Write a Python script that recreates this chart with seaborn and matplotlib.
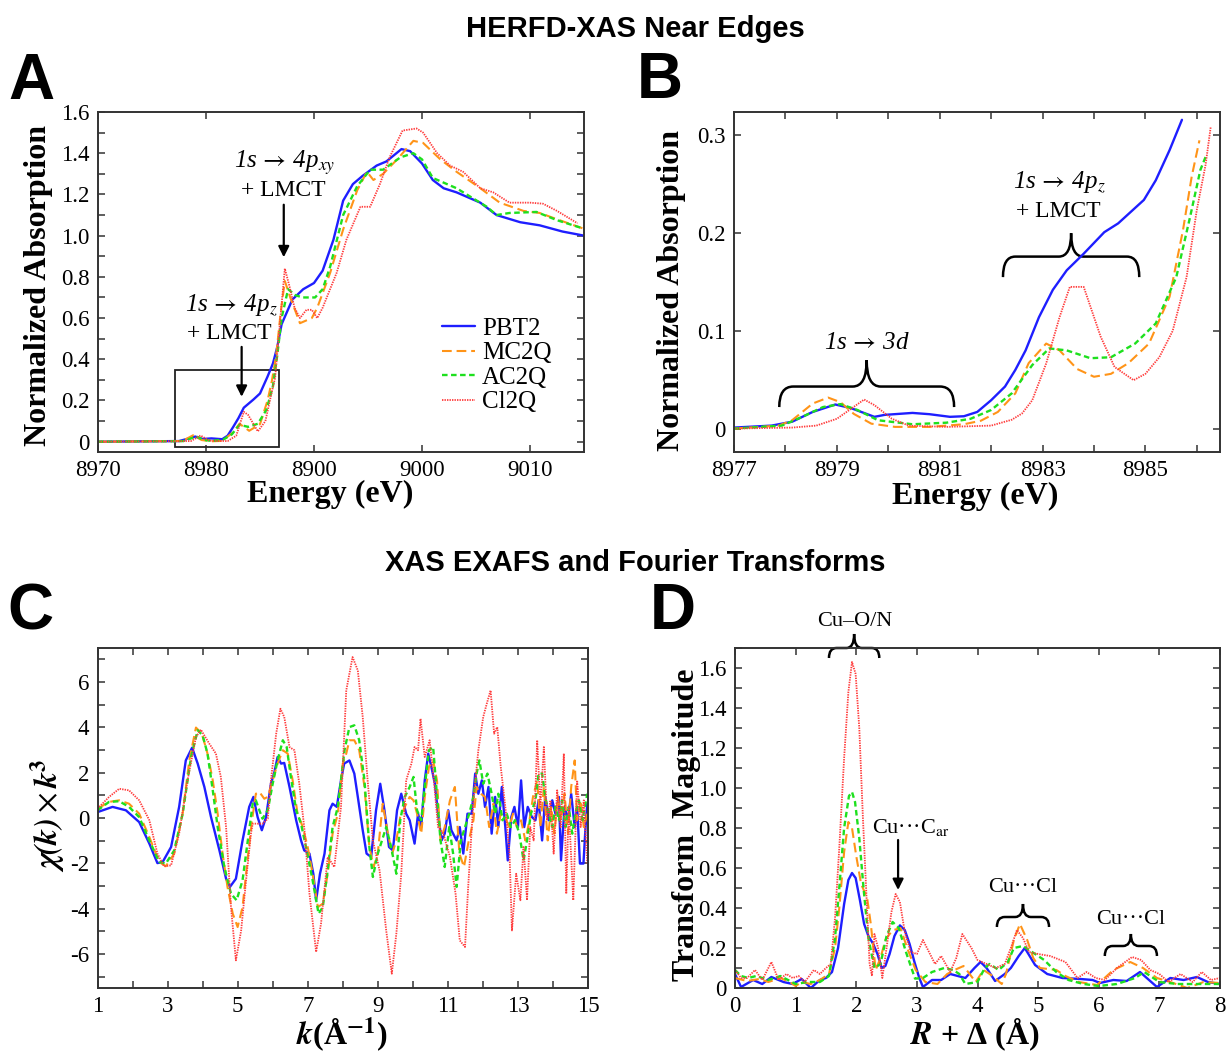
import numpy as np
import pandas as pd
import matplotlib.pyplot as plt
import seaborn as sns
from matplotlib.path import Path
from matplotlib.patches import PathPatch, Rectangle
from matplotlib.ticker import MultipleLocator, FixedLocator

# ---- panel A: HERFD-XAS full near edge ----
a_pbt2_e = [8970, 8977.5, 8978.5, 8979.0, 8979.7, 8980.5, 8981.5, 8982.0, 8982.5, 8983.0, 8983.5, 8984.4, 8985.0,
            8985.7, 8986.2, 8986.6, 8987.0, 8988.0, 8989.0, 8990.0, 8990.8, 8991.8, 8992.7, 8993.6, 8994.5, 8995.8,
            8996.7, 8998.1, 8998.9, 9000.0, 9001.0, 9002.0, 9003.2, 9005.4, 9006.9, 9009.1, 9010.9, 9013.0, 9015.0]
a_pbt2_y = [0.0, 0.003, 0.017, 0.025, 0.013, 0.016, 0.012, 0.029, 0.07, 0.114, 0.165, 0.205, 0.234,
            0.316, 0.38, 0.46, 0.57, 0.69, 0.74, 0.77, 0.83, 0.98, 1.17, 1.25, 1.29, 1.34,
            1.36, 1.42, 1.41, 1.35, 1.27, 1.23, 1.21, 1.16, 1.10, 1.065, 1.05, 1.02, 1.0]
a_mc2q_e = [8970, 8977.8, 8978.8, 8979.6, 8980.5, 8981.5, 8982.5, 8983.1, 8984.0, 8985.0, 8985.7, 8986.1, 8986.5,
            8986.9, 8987.3, 8987.8, 8988.7, 8989.8, 8990.3, 8991.5, 8992.7, 8994.0, 8994.9, 8995.5, 8996.4, 8997.7,
            8999.2, 9000.1, 9001.7, 9003.2, 9005.4, 9007.2, 9009.4, 9010.9, 9013.0, 9014.9]
a_mc2q_y = [0.0, 0.003, 0.031, 0.008, 0.002, 0.004, 0.045, 0.087, 0.053, 0.085, 0.2, 0.295, 0.42,
            0.62, 0.78, 0.70, 0.575, 0.60, 0.65, 0.82, 1.03, 1.22, 1.31, 1.27, 1.30, 1.37,
            1.46, 1.45, 1.37, 1.31, 1.23, 1.16, 1.12, 1.11, 1.07, 1.035]
a_ac2q_e = [8970, 8977.9, 8979.1, 8979.8, 8980.5, 8981.6, 8982.4, 8983.1, 8983.9, 8984.8, 8985.6, 8986.2, 8986.6,
            8987.0, 8987.6, 8988.3, 8989.0, 8990.1, 8990.8, 8991.5, 8992.7, 8994.0, 8995.2, 8996.4, 8998.0, 8999.2,
            9000.0, 9001.0, 9003.2, 9006.0, 9006.9, 9008.1, 9010.6, 9012.5, 9014.9]
a_ac2q_y = [0.0, 0.003, 0.025, 0.009, 0.004, 0.01, 0.036, 0.082, 0.072, 0.087, 0.155, 0.27, 0.42,
            0.6, 0.74, 0.71, 0.70, 0.70, 0.74, 0.85, 1.10, 1.24, 1.32, 1.32, 1.38, 1.40,
            1.37, 1.28, 1.23, 1.14, 1.10, 1.11, 1.115, 1.075, 1.035]
a_cl2q_e = [8970, 8978.6, 8979.5, 8980.3, 8982.0, 8982.8, 8983.5, 8983.9, 8984.8, 8985.5, 8986.0, 8986.4, 8986.8,
            8987.3, 8987.7, 8988.2, 8988.7, 8989.3, 8989.8, 8990.3, 8990.8, 8992.1, 8993.0, 8994.3, 8995.2, 8996.1,
            8997.0, 8998.2, 8999.5, 9000.1, 9001.4, 9002.6, 9003.8, 9005.4, 9006.6, 9008.1, 9010.0, 9011.2, 9012.5,
            9014.4]
a_cl2q_y = [0.0, 0.003, 0.03, 0.005, 0.003, 0.029, 0.145, 0.13, 0.05, 0.1, 0.22, 0.31, 0.55,
            0.84, 0.76, 0.65, 0.60, 0.64, 0.64, 0.60, 0.65, 0.82, 0.98, 1.14, 1.14, 1.25,
            1.38, 1.51, 1.52, 1.50, 1.40, 1.34, 1.31, 1.23, 1.21, 1.16, 1.16, 1.155, 1.12,
            1.06]
a_tick_pos = [8970, 8980, 8990, 9000, 9010]
a_tick_labels = ['8970', '8980', '8900', '9000', '9010']

# ---- panel B: pre-edge zoom ----
b_pbt2_e = [8977.0, 8977.73, 8978.13, 8978.53, 8978.97, 8979.27, 8979.73, 8979.93, 8980.47, 8980.8, 8981.2, 8981.47,
            8981.73, 8982.0, 8982.27, 8982.47, 8982.67, 8982.93, 8983.2, 8983.47, 8983.8, 8984.2, 8984.47, 8984.97,
            8985.2, 8985.47, 8985.71]
b_pbt2_y = [0.001, 0.003, 0.007, 0.017, 0.0246, 0.021, 0.012, 0.014, 0.016, 0.0147, 0.012, 0.0126,
            0.017, 0.029, 0.043, 0.06, 0.08, 0.114, 0.142, 0.162, 0.179, 0.201, 0.21, 0.234,
            0.254, 0.285, 0.316]
b_mc2q_e = [8977.0, 8977.87, 8978.13, 8978.53, 8978.83, 8979.07, 8979.33, 8979.67, 8980.13, 8980.8, 8981.47, 8981.8,
            8982.13, 8982.47, 8982.73, 8983.07, 8983.33, 8983.67, 8984.0, 8984.33, 8984.67, 8985.07, 8985.47, 8985.73,
            8985.9, 8986.05]
b_mc2q_y = [0.0, 0.003, 0.0085, 0.0256, 0.0317, 0.027, 0.015, 0.005, 0.0017, 0.0017, 0.0044, 0.008,
            0.017, 0.036, 0.067, 0.087, 0.08, 0.061, 0.053, 0.056, 0.067, 0.087, 0.135, 0.203,
            0.258, 0.295]
b_ac2q_e = [8977.0, 8977.93, 8978.33, 8978.73, 8979.07, 8979.4, 8979.8, 8980.47, 8981.13, 8981.6, 8982.0, 8982.4,
            8982.8, 8983.13, 8983.47, 8983.93, 8984.33, 8984.8, 8985.2, 8985.6, 8985.87, 8986.07, 8986.17]
b_ac2q_y = [0.0, 0.003, 0.012, 0.022, 0.025, 0.019, 0.0085, 0.0044, 0.006, 0.01, 0.019, 0.036,
            0.065, 0.082, 0.08, 0.072, 0.073, 0.087, 0.1075, 0.155, 0.217, 0.265, 0.278]
b_cl2q_e = [8977.0, 8978.13, 8978.6, 8979.0, 8979.27, 8979.53, 8979.73, 8980.07, 8980.4, 8981.13, 8982.0, 8982.4,
            8982.6, 8982.8, 8983.07, 8983.33, 8983.53, 8983.8, 8984.13, 8984.4, 8984.77, 8985.0, 8985.27, 8985.53,
            8985.8, 8986.0, 8986.17, 8986.27]
b_cl2q_y = [0.0, 0.001, 0.003, 0.01, 0.02, 0.0297, 0.024, 0.01, 0.003, 0.0017, 0.003, 0.009,
            0.0154, 0.029, 0.0666, 0.114, 0.145, 0.145, 0.094, 0.063, 0.0495, 0.056, 0.073, 0.1,
            0.155, 0.224, 0.27, 0.309]

# ---- panel C: EXAFS chi(k)*k^3 ----
c_pbt2_k = [1.0, 1.43, 1.81, 2.19, 2.48, 2.71, 2.86, 3.1, 3.33, 3.52, 3.7, 3.86, 4.05, 4.24, 4.48, 4.67, 4.78, 4.95,
            5.14, 5.33, 5.45, 5.57, 5.69, 5.81, 5.95, 6.05, 6.14, 6.24, 6.33, 6.48, 6.67, 6.81, 6.9, 7.05, 7.16,
            7.24, 7.35, 7.48, 7.62, 7.71, 7.83, 7.95, 8.04, 8.19, 8.33, 8.43, 8.57, 8.68, 8.81, 8.95, 9.07, 9.19,
            9.32, 9.43, 9.55, 9.67, 9.81, 9.91, 10.05, 10.15, 10.24, 10.34, 10.44, 10.53, 10.63, 10.72, 10.82,
            10.91, 11.01, 11.1, 11.25, 11.34, 11.44, 11.56, 11.68, 11.78, 11.87, 11.97, 12.06, 12.16, 12.25,
            12.35, 12.44, 12.54, 12.64, 12.71, 12.81, 12.9, 13.0, 13.09, 13.18, 13.28, 13.4, 13.5, 13.59, 13.69,
            13.78, 13.88, 13.98, 14.07, 14.17, 14.23, 14.33, 14.43, 14.52, 14.62, 14.69, 14.77, 14.87, 14.93,
            14.98]
c_pbt2_chi = [0.26, 0.49, 0.34, -0.18, -1.13, -1.99, -1.94, -1.28, 0.49, 2.54, 3.1, 2.4, 1.37, 0.04, -1.43, -2.68,
              -3.04, -2.68, -0.99, 0.49, 0.93, 0.04, -0.54, 0.04, 1.51, 2.03, 2.69, 2.4, 2.43, 1.37, -0.1, -0.99,
              -1.43, -1.57, -2.46, -3.63, -2.46, -1.57, 0.34, 0.63, 0.49, 1.66, 2.4, 2.54, 1.96, 0.93, -0.54,
              -1.57, -1.72, 0.34, 1.51, 0.34, -1.28, -1.43, 0.34, 1.07, 0.19, -0.1, -1.13, 0.19, -0.4, 1.66, 2.84,
              2.25, 1.51, 0.19, -0.99, -0.69, 0.34, -0.54, -0.99, -0.4, -1.57, 0.19, 0.19, 1.96, 1.07, 1.66, 0.49,
              1.37, -0.69, 0.93, -0.4, 1.37, -0.4, -1.87, 0.04, 0.49, -0.4, 1.66, -0.4, 0.49, 0.04, -0.1, 0.78,
              -0.99, 0.93, -0.1, 0.78, 0.19, 0.93, -1.87, 0.49, -0.1, 1.07, -0.4, 0.49, -2.01, -2.01, -0.4, 0.63]
c_mc2q_k = [1.0, 1.33, 1.62, 1.9, 2.19, 2.48, 2.76, 2.95, 3.19, 3.43, 3.62, 3.81, 3.98, 4.14, 4.29, 4.43, 4.57, 4.71,
            4.86, 5.0, 5.14, 5.29, 5.41, 5.52, 5.62, 5.76, 5.86, 6.0, 6.14, 6.29, 6.43, 6.57, 6.71, 6.86, 7.0, 7.14,
            7.29, 7.43, 7.57, 7.71, 7.86, 8.0, 8.1, 8.19, 8.33, 8.47, 8.62, 8.76, 8.88, 9.0, 9.14, 9.29, 9.41, 9.53,
            9.64, 9.77, 9.91, 10.02, 10.12, 10.24, 10.34, 10.46, 10.58, 10.69, 10.79, 10.91, 11.06, 11.2, 11.33,
            11.46, 11.58, 11.73, 11.82, 11.94, 12.06, 12.18, 12.3, 12.4, 12.51, 12.64, 12.75, 12.86, 12.97, 13.09,
            13.21, 13.33, 13.43, 13.55, 13.64, 13.74, 13.85, 13.95, 14.04, 14.14, 14.23, 14.33, 14.43, 14.52,
            14.62, 14.69, 14.79, 14.88, 14.98]
c_mc2q_chi = [0.41, 0.71, 0.78, 0.63, 0.19, -0.84, -1.94, -2.13, -1.57, 0.19, 2.54, 3.99, 3.72, 2.84, 1.66, 0.19,
              -1.57, -3.04, -4.22, -4.81, -3.93, -1.72, -0.1, 1.07, 1.15, 0.85, 0.93, 1.66, 2.4, 2.99, 2.84, 1.66,
              0.19, -0.4, -1.28, -2.46, -3.93, -3.78, -2.46, -0.69, 0.19, 2.4, 2.84, 3.43, 3.43, 2.99, 1.37, -1.28,
              -2.16, -1.57, 0.63, -0.69, -1.57, -0.99, 0.04, 0.49, 0.93, 0.78, 0.19, -0.69, 0.93, 2.25, 2.54, 1.66,
              -0.99, -0.4, 0.78, 1.37, -1.57, -2.16, -1.13, -0.1, 1.37, 1.07, 0.93, -0.4, 0.63, -0.69, 0.19, 0.04,
              -0.4, 0.19, -0.4, -0.1, -0.99, -0.1, 0.93, 1.66, -0.4, 1.37, -0.99, 0.49, -0.69, 0.93, -0.1, 1.07,
              -0.69, 1.37, 2.54, -0.1, 0.78, -0.4, 0.19]
c_ac2q_k = [1.0, 1.33, 1.62, 1.9, 2.19, 2.48, 2.76, 2.95, 3.19, 3.43, 3.67, 3.86, 4.0, 4.14, 4.29, 4.43, 4.62, 4.81,
            4.97, 5.14, 5.29, 5.43, 5.52, 5.62, 5.71, 5.86, 6.0, 6.14, 6.29, 6.4, 6.52, 6.67, 6.81, 6.95, 7.14, 7.31,
            7.43, 7.57, 7.71, 7.86, 8.05, 8.19, 8.33, 8.47, 8.62, 8.76, 8.86, 9.0, 9.12, 9.24, 9.38, 9.53, 9.64,
            9.77, 9.91, 10.02, 10.12, 10.24, 10.34, 10.46, 10.58, 10.67, 10.79, 10.91, 11.04, 11.15, 11.25, 11.37,
            11.49, 11.61, 11.73, 11.82, 11.9, 12.01, 12.13, 12.25, 12.35, 12.44, 12.56, 12.68, 12.8, 12.92, 13.04,
            13.16, 13.26, 13.37, 13.5, 13.59, 13.69, 13.78, 13.88, 13.98, 14.07, 14.17, 14.26, 14.36, 14.45,
            14.55, 14.64, 14.74, 14.84, 14.98]
c_ac2q_chi = [0.34, 0.71, 0.74, 0.49, 0.04, -0.99, -1.94, -2.01, -1.43, 0.19, 2.69, 3.87, 3.65, 2.84, 1.22, -0.4,
              -2.16, -3.34, -3.63, -2.75, -0.99, 0.63, 0.78, 0.34, -0.03, 0.34, 1.51, 2.54, 3.43, 3.13, 1.81, 0.34,
              -0.25, -1.28, -2.75, -4.22, -3.93, -2.31, -0.4, 0.49, 2.99, 4.01, 4.09, 3.43, 1.66, -1.28, -2.6,
              -1.57, -0.99, -0.4, -1.28, -2.46, -0.1, 0.93, 1.37, 1.81, 0.34, -0.1, 1.37, 2.99, 3.13, 1.37, -0.99,
              -2.16, -0.4, -1.57, -3.04, -0.99, -0.4, 0.19, 0.93, 1.96, 2.54, 1.51, 1.96, 1.07, 0.19, 1.07, -0.1,
              0.19, -0.4, -0.1, -0.69, -1.87, -0.99, 0.19, 0.78, 1.96, 1.96, 0.93, 0.19, -0.4, 0.49, -0.1, 0.78,
              -0.4, 0.49, -0.69, 0.19, 0.78, -0.1, 1.07]
c_cl2q_k = [1.0, 1.33, 1.62, 1.9, 2.19, 2.48, 2.71, 2.9, 3.1, 3.33, 3.57, 3.81, 3.95, 4.19, 4.38, 4.52, 4.67, 4.81,
            4.95, 5.1, 5.24, 5.38, 5.43, 5.71, 5.86, 5.95, 6.1, 6.22, 6.33, 6.48, 6.62, 6.76, 6.9, 7.05, 7.24, 7.38,
            7.57, 7.76, 7.95, 8.1, 8.28, 8.43, 8.57, 8.71, 8.86, 9.05, 9.24, 9.4, 9.53, 9.67, 9.81, 9.96, 10.05,
            10.15, 10.22, 10.34, 10.48, 10.6, 10.72, 10.87, 11.06, 11.22, 11.34, 11.49, 11.58, 11.73, 11.87, 12.01,
            12.11, 12.22, 12.32, 12.41, 12.51, 12.64, 12.76, 12.83, 12.95, 13.07, 13.16, 13.26, 13.35, 13.45,
            13.55, 13.64, 13.74, 13.83, 13.93, 14.02, 14.12, 14.22, 14.31, 14.38, 14.45, 14.58, 14.69, 14.79,
            14.88, 14.98]
c_cl2q_chi = [0.41, 0.93, 1.29, 1.22, 0.78, -0.1, -1.57, -2.13, -2.09, -0.69, 1.66, 3.57, 3.9, 3.28, 2.84, 1.81,
              -0.4, -3.93, -6.28, -4.96, -2.75, -0.69, -0.25, -0.25, -0.03, 1.66, 3.72, 4.82, 4.46, 3.13, 2.99, 1.51,
              -0.4, -3.34, -5.91, -4.66, -1.72, -2.16, 0.49, 5.63, 7.1, 6.51, 4.46, 1.66, -0.99, -2.31, -4.96, -6.87,
              -5.1, -2.46, 1.66, 2.4, 3.13, 2.99, 4.38, 2.69, 3.43, 1.66, -0.4, -0.69, -1.72, -3.34, -5.4, -5.69,
              -3.04, 0.78, 2.99, 4.46, 5.04, 5.63, 3.72, 4.01, 2.25, 0.49, -1.57, -4.96, -2.46, -3.63, -1.28, -3.63,
              -0.4, -0.99, 3.43, 0.49, 3.13, -0.1, 0.78, -1.57, 1.22, -0.4, 2.84, -3.34, 0.49, -3.63, 1.66, -0.4,
              0.78, -2.01]

# ---- panel D: Fourier transform magnitude ----
d_pbt2_r = [0.0, 0.1, 0.3, 0.45, 0.6, 0.8, 0.95, 1.1, 1.25, 1.4, 1.5, 1.6, 1.7, 1.8, 1.87, 1.93, 1.99, 2.06, 2.13,
            2.2, 2.28, 2.35, 2.42, 2.48, 2.55, 2.63, 2.72, 2.8, 2.88, 2.96, 3.04, 3.1, 3.25, 3.4, 3.55, 3.8, 3.95,
            4.05, 4.15, 4.29, 4.45, 4.55, 4.68, 4.78, 4.95, 5.15, 5.4, 5.7, 5.9, 6.02, 6.24, 6.46, 6.68, 6.96,
            7.18, 7.4, 7.62, 7.8, 8.0]
d_pbt2_m = [0.07, 0.005, 0.04, 0.02, 0.055, 0.03, 0.02, 0.045, 0.0, 0.04, 0.05, 0.08, 0.2, 0.42, 0.54, 0.575, 0.55,
            0.44, 0.32, 0.26, 0.22, 0.17, 0.1, 0.11, 0.17, 0.26, 0.313, 0.29, 0.22, 0.13, 0.05, 0.005, 0.04, 0.04,
            0.07, 0.05, 0.1, 0.13, 0.1, 0.035, 0.07, 0.1, 0.16, 0.2, 0.115, 0.07, 0.05, 0.045, 0.04, 0.025, 0.04,
            0.035, 0.08, 0.005, 0.05, 0.04, 0.055, 0.03, 0.02]
d_mc2q_r = [0.0, 0.2, 0.4, 0.55, 0.75, 0.9, 1.0, 1.1, 1.25, 1.4, 1.55, 1.65, 1.72, 1.8, 1.87, 1.93, 2.0, 2.08, 2.18,
            2.24, 2.32, 2.4, 2.48, 2.55, 2.62, 2.73, 2.84, 2.98, 3.14, 3.34, 3.5, 3.62, 3.77, 3.97, 4.1, 4.25, 4.4,
            4.47, 4.6, 4.7, 4.82, 4.92, 5.03, 5.3, 5.45, 5.67, 5.97, 6.24, 6.52, 6.73, 6.96, 7.18, 7.46, 7.73, 8.0]
d_mc2q_m = [0.05, 0.035, 0.045, 0.03, 0.05, 0.03, 0.01, 0.03, 0.02, 0.04, 0.07, 0.2, 0.4, 0.68, 0.83, 0.8, 0.66,
            0.52, 0.45, 0.32, 0.09, 0.15, 0.24, 0.27, 0.29, 0.3, 0.2, 0.09, 0.03, 0.02, 0.07, 0.09, 0.11, 0.03,
            0.09, 0.06, 0.02, 0.07, 0.24, 0.32, 0.24, 0.15, 0.1, 0.09, 0.06, 0.03, 0.015, 0.09, 0.13, 0.1, 0.05,
            0.03, 0.0, 0.03, 0.025]
d_ac2q_r = [0.0, 0.1, 0.22, 0.35, 0.55, 0.75, 1.0, 1.2, 1.4, 1.55, 1.65, 1.72, 1.8, 1.88, 1.93, 1.98, 2.05, 2.12,
            2.2, 2.3, 2.4, 2.5, 2.6, 2.7, 2.82, 2.97, 3.1, 3.25, 3.45, 3.6, 3.7, 3.8, 4.0, 4.12, 4.2, 4.35, 4.5,
            4.6, 4.75, 4.9, 5.1, 5.3, 5.5, 5.75, 6.0, 6.3, 6.6, 6.75, 7.0, 7.3, 7.6, 8.0]
d_ac2q_m = [0.09, 0.06, 0.05, 0.06, 0.04, 0.06, 0.02, 0.03, 0.03, 0.06, 0.25, 0.5, 0.8, 0.96, 0.98, 0.93, 0.75,
            0.5, 0.25, 0.1, 0.12, 0.26, 0.33, 0.3, 0.18, 0.047, 0.05, 0.08, 0.1, 0.09, 0.07, 0.02, 0.03, 0.1,
            0.12, 0.09, 0.13, 0.2, 0.21, 0.18, 0.14, 0.08, 0.04, 0.02, 0.01, 0.02, 0.05, 0.08, 0.03, 0.02, 0.02,
            0.02]
d_cl2q_r = [0.0, 0.1, 0.2, 0.33, 0.45, 0.6, 0.72, 0.85, 0.95, 1.05, 1.15, 1.3, 1.4, 1.5, 1.58, 1.65, 1.72, 1.8,
            1.87, 1.93, 1.99, 2.05, 2.11, 2.17, 2.22, 2.26, 2.3, 2.36, 2.43, 2.5, 2.58, 2.65, 2.72, 2.8, 2.9, 3.0,
            3.1, 3.2, 3.3, 3.4, 3.55, 3.65, 3.75, 3.9, 4.0, 4.15, 4.3, 4.45, 4.55, 4.65, 4.75, 4.85, 5.0, 5.2,
            5.45, 5.65, 5.8, 5.95, 6.1, 6.3, 6.55, 6.7, 6.85, 7.0, 7.15, 7.35, 7.55, 7.7, 7.85, 8.0]
d_cl2q_m = [0.09, 0.05, 0.05, 0.09, 0.04, 0.13, 0.04, 0.07, 0.05, 0.06, 0.03, 0.09, 0.07, 0.1, 0.12, 0.35, 0.7,
            1.15, 1.48, 1.63, 1.57, 1.3, 0.85, 0.45, 0.12, 0.06, 0.27, 0.2, 0.05, 0.2, 0.38, 0.47, 0.43, 0.28,
            0.18, 0.17, 0.24, 0.18, 0.12, 0.16, 0.08, 0.15, 0.27, 0.2, 0.14, 0.12, 0.1, 0.12, 0.2, 0.29, 0.25,
            0.18, 0.17, 0.16, 0.13, 0.05, 0.08, 0.05, 0.04, 0.1, 0.155, 0.14, 0.09, 0.07, 0.03, 0.07, 0.03, 0.08,
            0.04, 0.05]

SAMPLES = ['PBT2', 'MC2Q', 'AC2Q', 'Cl2Q']
STYLES = {
    'PBT2': dict(color='#1e1eff', lw=1.7, ls='-'),
    'MC2Q': dict(color='#ff9418', lw=1.5, ls=(0, (7, 3.5))),
    'AC2Q': dict(color='#1ee01e', lw=1.7, ls=(0, (4, 2.5))),
    'Cl2Q': dict(color='#ff3c3c', lw=1.3, ls=(0, (1, 0.8))),
}

sns.set_style('ticks')
plt.rcParams['font.family'] = ['Liberation Serif', 'DejaVu Serif']
plt.rcParams['mathtext.fontset'] = 'stix'
plt.rcParams['axes.unicode_minus'] = False
plt.rcParams['lines.scale_dashes'] = False
for key in ['text.color', 'axes.labelcolor', 'xtick.labelcolor', 'ytick.labelcolor']:
    plt.rcParams[key] = 'black'

TICK_FS = 16.5
LABEL_FS = 23
NOTE_FS = 17


def plot_series(ax, x, y, name):
    st = STYLES[name]
    sns.lineplot(x=x, y=y, ax=ax, color=st['color'], linewidth=st['lw'], linestyle=st['ls'],
                 sort=False, estimator=None, legend=False, label=name)


def style_axes(ax):
    for sp in ax.spines.values():
        sp.set_linewidth(1.4)
        sp.set_color('#333333')
    ax.tick_params(which='both', direction='in', top=True, right=True, length=5, width=1.1,
                   color='#333333', labelcolor='black', labelsize=TICK_FS, pad=6)


def draw_brace(ax, x0, x1, y_end, y_flat, y_tip, frac=0.12, lw=1.8):
    xc = (x0 + x1) / 2
    d = (x1 - x0) * frac
    verts = [(x0, y_end), (x0, y_flat), (x0 + d, y_flat), (xc - d, y_flat), (xc, y_flat), (xc, y_tip),
             (xc, y_flat), (xc + d, y_flat), (x1 - d, y_flat), (x1, y_flat), (x1, y_end)]
    codes = [Path.MOVETO, Path.CURVE3, Path.CURVE3, Path.LINETO, Path.CURVE3, Path.CURVE3,
             Path.CURVE3, Path.CURVE3, Path.LINETO, Path.CURVE3, Path.CURVE3]
    ax.add_patch(PathPatch(Path(verts, codes), fill=False, lw=lw, ec='black', clip_on=False))


def arrow(ax, x, y_from, y_to):
    ax.annotate('', xy=(x, y_to), xytext=(x, y_from),
                arrowprops=dict(arrowstyle='-|>', color='black', lw=1.6, mutation_scale=16,
                                shrinkA=0, shrinkB=0))


def transition(ax, x, y, final, sub=''):
    # italic transition label like "1s -> 4p_xy"
    txt = '1s$\\,\\rightarrow\\,$' + final + (f'$_{{{sub}}}$' if sub else '')
    ax.text(x, y, txt, ha='center', va='center', fontsize=NOTE_FS + 1, style='italic')


def set_labels(ax, xlabel, ylabel, xpos, ypos):
    ax.set_xlabel(xlabel, fontsize=LABEL_FS, fontweight='bold', va='center')
    ax.set_ylabel(ylabel, fontsize=LABEL_FS, fontweight='bold', va='center')
    ax.xaxis.set_label_coords(*xpos)
    ax.yaxis.set_label_coords(*ypos)


fig = plt.figure(figsize=(12.27, 10.53), dpi=100)
W, H = 1227, 1053


def add_axes_px(left, top, right, bottom):
    return fig.add_axes([left / W, 1 - bottom / H, (right - left) / W, (bottom - top) / H])


# ---------- A ----------
axA = add_axes_px(98, 112, 584, 452)
for name, e, y in zip(SAMPLES, [a_pbt2_e, a_mc2q_e, a_ac2q_e, a_cl2q_e], [a_pbt2_y, a_mc2q_y, a_ac2q_y, a_cl2q_y]):
    plot_series(axA, e, y, name)
axA.set_xlim(8970, 9015)
axA.set_ylim(-0.05, 1.6)
axA.set_xticks(a_tick_pos)
axA.set_xticklabels(a_tick_labels)
yt = np.arange(0, 1.61, 0.2)
axA.set_yticks(yt)
axA.set_yticklabels(['0' if v == 0 else f'{v:.1f}' for v in yt])
axA.yaxis.set_minor_locator(MultipleLocator(0.1))
style_axes(axA)
set_labels(axA, 'Energy (eV)', 'Normalized Absorption', (0.477, -0.126), (-0.123, 0.491))
axA.add_patch(Rectangle((8977.15, -0.024), 9.6, 0.374, fill=False, lw=1.3, ec='#222222'))
transition(axA, 8987.3, 1.355, '4p', 'xy')
axA.text(8987.2, 1.22, '+ LMCT', ha='center', va='center', fontsize=NOTE_FS)
arrow(axA, 8987.2, 1.15, 0.895)
transition(axA, 8982.3, 0.665, '4p', 'z')
axA.text(8982.2, 0.527, '+ LMCT', ha='center', va='center', fontsize=NOTE_FS)
arrow(axA, 8983.3, 0.46, 0.218)
axA.legend(loc='center left', bbox_to_anchor=(0.708, 0.255), frameon=False, fontsize=18,
           handlelength=1.3, handletextpad=0.3, labelspacing=0.08, borderpad=0, borderaxespad=0)

# ---------- B ----------
axB = add_axes_px(734, 112, 1220, 452)
for name, e, y in zip(SAMPLES, [b_pbt2_e, b_mc2q_e, b_ac2q_e, b_cl2q_e], [b_pbt2_y, b_mc2q_y, b_ac2q_y, b_cl2q_y]):
    plot_series(axB, e, y, name)
axB.set_xlim(8977, 8986.45)
axB.set_ylim(-0.024, 0.324)
axB.xaxis.set_major_locator(FixedLocator([8977, 8979, 8981, 8983, 8985]))
axB.xaxis.set_minor_locator(FixedLocator([8978, 8980, 8982, 8984, 8986]))
axB.set_yticks([0, 0.1, 0.2, 0.3])
axB.set_yticklabels(['0', '0.1', '0.2', '0.3'])
style_axes(axB)
set_labels(axB, 'Energy (eV)', 'Normalized Absorption', (0.496, -0.132), (-0.128, 0.476))
draw_brace(axB, 8977.88, 8981.28, 0.022, 0.043, 0.07, frac=0.08)
transition(axB, 8979.58, 0.088, '3d')
draw_brace(axB, 8982.23, 8984.88, 0.155, 0.176, 0.2, frac=0.09)
transition(axB, 8983.33, 0.252, '4p', 'z')
axB.text(8983.3, 0.222, '+ LMCT', ha='center', va='center', fontsize=NOTE_FS)

# ---------- C ----------
axC = add_axes_px(97.5, 648, 588, 988)
for name, k, c in zip(SAMPLES, [c_pbt2_k, c_mc2q_k, c_ac2q_k, c_cl2q_k],
                      [c_pbt2_chi, c_mc2q_chi, c_ac2q_chi, c_cl2q_chi]):
    plot_series(axC, k, c, name)
axC.set_xlim(1, 15)
axC.set_ylim(-7.5, 7.5)
axC.xaxis.set_major_locator(MultipleLocator(2, offset=1))
axC.xaxis.set_minor_locator(MultipleLocator(1))
axC.yaxis.set_major_locator(MultipleLocator(2))
axC.yaxis.set_minor_locator(MultipleLocator(1))
style_axes(axC)
set_labels(axC, r'$\mathbfit{k}$(Å$^{\mathbf{-1}}$)', r'$\mathbfit{\chi(k)}\times\mathbfit{k}^{\mathbf{3}}$',
           (0.498, -0.138), (-0.101, 0.509))

# ---------- D ----------
axD = add_axes_px(735, 648, 1220, 988)
for name, r, m in zip(SAMPLES, [d_pbt2_r, d_mc2q_r, d_ac2q_r, d_cl2q_r], [d_pbt2_m, d_mc2q_m, d_ac2q_m, d_cl2q_m]):
    plot_series(axD, r, m, name)
axD.set_xlim(0, 8)
axD.set_ylim(0, 1.7)
axD.xaxis.set_major_locator(MultipleLocator(1))
yt = np.arange(0, 1.61, 0.2)
axD.set_yticks(yt)
axD.set_yticklabels(['0' if v == 0 else f'{v:.1f}' for v in yt])
axD.yaxis.set_minor_locator(MultipleLocator(0.1))
style_axes(axD)
set_labels(axD, r'$\mathbfit{R}$ + Δ (Å)', 'Transform  Magnitude', (0.495, -0.138), (-0.101, 0.48))
draw_brace(axD, 1.55, 2.38, 1.65, 1.70, 1.77, frac=0.15)
axD.text(1.97, 1.835, 'Cu\u2013O/N', ha='center', va='center', fontsize=NOTE_FS - 1)
axD.text(2.9, 0.80, 'Cu\u00b7\u00b7\u00b7C$_{\\rm ar}$', ha='center', va='center', fontsize=NOTE_FS - 1)
arrow(axD, 2.69, 0.74, 0.49)
draw_brace(axD, 4.32, 5.18, 0.305, 0.355, 0.42, frac=0.15)
axD.text(4.75, 0.50, 'Cu\u00b7\u00b7\u00b7Cl', ha='center', va='center', fontsize=NOTE_FS - 1)
draw_brace(axD, 6.1, 6.96, 0.16, 0.21, 0.27, frac=0.15)
axD.text(6.53, 0.345, 'Cu\u00b7\u00b7\u00b7Cl', ha='center', va='center', fontsize=NOTE_FS - 1)

# ---------- titles and panel letters ----------
sans = ['Liberation Sans', 'DejaVu Sans']
fig.text(0.518, 0.972, 'HERFD-XAS Near Edges', ha='center', va='center', fontsize=21, fontweight='bold',
         family=sans, color='black')
fig.text(0.518, 0.465, 'XAS EXAFS and Fourier Transforms', ha='center', va='center', fontsize=21,
         fontweight='bold', family=sans, color='black')
for letter, (px, py) in zip('ABCD', [(31, 82), (660, 81), (30, 612), (673, 612)]):
    fig.text(px / W, 1 - py / H, letter, ha='center', va='center', fontsize=46, fontweight='bold',
             family=sans, color='black')

fig.savefig('out.png', dpi=100)
